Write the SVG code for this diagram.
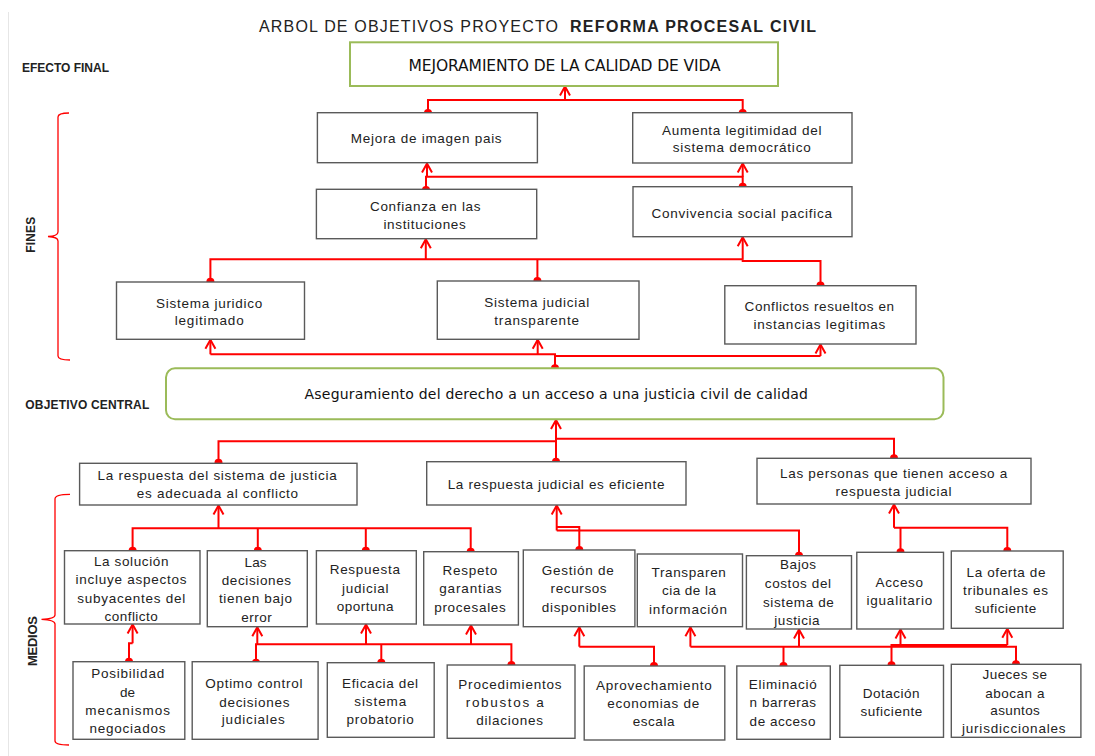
<svg xmlns="http://www.w3.org/2000/svg" width="1095" height="756" viewBox="0 0 1095 756">
<defs>
<style>
.bx{fill:#fff;stroke:#5a5a5a;stroke-width:1.4}
.gb{fill:#fff;stroke:#9bbb59;stroke-width:2}
.t{font-family:"Liberation Sans Narrow","Liberation Sans",Arial,sans-serif;font-size:13.5px;fill:#222}
.h{font-family:"Liberation Sans Narrow","Liberation Sans",Arial,sans-serif;font-size:12px;font-weight:bold;fill:#222}
.v{font-family:"DejaVu Sans",Verdana,sans-serif;fill:#111}
.c{fill:none;stroke:#ff0000;stroke-width:2}
.a{fill:none;stroke:#ff0000;stroke-width:2;marker-end:url(#ah)}
.d{fill:#ff0000}
.br{fill:none;stroke:#ff0000;stroke-width:1.3}
</style>
<marker id="ah" markerUnits="userSpaceOnUse" viewBox="-12 -7 14 14" refX="0" refY="0" markerWidth="14" markerHeight="14" orient="auto">
<path d="M-9,-5 L0,0 L-9,5" fill="none" stroke="#ff0000" stroke-width="2"/>
</marker>
</defs>
<rect width="1095" height="756" fill="#fff"/>
<line x1="8.5" y1="12" x2="8.5" y2="756" stroke="#e6e6e6" stroke-width="1"/>

<g id="title">
<text class="t" x="259" y="32.3" font-size="16" textLength="299" lengthAdjust="spacing" style="font-size:16px">ARBOL DE OBJETIVOS PROYECTO</text>
<text class="t" x="570" y="32.3" textLength="246" lengthAdjust="spacing" style="font-size:16px;font-weight:bold">REFORMA PROCESAL CIVIL</text>
</g>

<g id="labels">
<text class="h" x="22" y="72.3" textLength="87" lengthAdjust="spacing">EFECTO FINAL</text>
<text class="h" x="25.3" y="409.3" textLength="124" lengthAdjust="spacing">OBJETIVO CENTRAL</text>
<text class="h" transform="translate(35.1,252.7) rotate(-90)" x="0" y="0" textLength="36" lengthAdjust="spacing">FINES</text>
<text class="h" transform="translate(36.8,666) rotate(-90)" x="0" y="0" textLength="50" lengthAdjust="spacing" style="font-size:13px">MEDIOS</text>
<path class="br" d="M69,113 Q58,113 58,117 V232 Q58,236 48,236.5 Q58,237 58,241 V356 Q58,360 70,360"/>
<path class="br" d="M70,494.3 Q55,494.3 55,499 V615 Q55,619 41.5,619.3 Q55,620 55,624 V741 Q55,745 69,745"/>
</g>

<g id="connectors">
<path class="c" d="M428,113 V100 H742.7 V113"/>
<path class="a" d="M565,100 V86.5"/>
<path class="c" d="M426,190 V176.7 H742.7 V186.7"/>
<path class="a" d="M427,176.7 V163.5"/>
<path class="a" d="M742.7,176.7 V163.5"/>
<path class="c" d="M210.4,281.7 V259.3 H742.7"/>
<path class="c" d="M537.4,281 V259.3"/>
<path class="c" d="M742.7,259.3 V261 H820.5 V285.5"/>
<path class="a" d="M425.8,259.3 V239.2"/>
<path class="a" d="M742.7,259.3 V237.2"/>
<path class="c" d="M555,368.3 V354.3 H210.4"/>
<path class="c" d="M555,356 H820.5"/>
<path class="a" d="M210.4,354.3 V339.8"/>
<path class="a" d="M537.7,354.3 V339.8"/>
<path class="a" d="M820.5,356 V344.5"/>
<path class="a" d="M556,461.7 V420"/>
<path class="c" d="M218.5,462.7 V441.3 H556"/>
<path class="c" d="M556,438.7 H894 V458.3"/>
<path class="a" d="M218.5,528.3 V505.5"/>
<path class="c" d="M132.6,550.7 V528.3 H470.7 V551.7"/>
<path class="c" d="M257.8,528.3 V550.7"/>
<path class="c" d="M365.8,528.3 V550.7"/>
<path class="a" d="M556.7,530.5 V505.5"/>
<path class="c" d="M579.3,550 V527 H556.7"/>
<path class="c" d="M799,555.7 V530.5 H556.7"/>
<path class="a" d="M894,527.7 V504.5"/>
<path class="c" d="M900.5,552.3 V527.7"/>
<path class="c" d="M894,527.7 H1007.3 V551"/>
<path class="c" d="M129,661.7 V643.3 H132.6"/>
<path class="a" d="M132.6,643.3 V624.5"/>
<path class="c" d="M256,662.7 V644.3 H511.4 V665"/>
<path class="c" d="M381.3,662.7 V644.3"/>
<path class="a" d="M257.3,644.3 V627.2"/>
<path class="a" d="M366,644.3 V624.5"/>
<path class="a" d="M471,644.3 V625.5"/>
<path class="c" d="M654,666 V646.7 H579.3"/>
<path class="a" d="M579.3,646.7 V627.2"/>
<path class="c" d="M690.4,646.7 H1016 V664.3"/>
<path class="c" d="M891.5,665.3 V645 H1007.3"/>
<path class="c" d="M783.5,666 V646.7"/>
<path class="a" d="M690.4,646.7 V627.2"/>
<path class="a" d="M799,646.7 V629.5"/>
<path class="a" d="M900.5,645 V629.5"/>
<path class="a" d="M1007.3,645 V628.8"/>
<circle class="d" cx="428" cy="113" r="4"/>
<circle class="d" cx="742.7" cy="113" r="4"/>
<circle class="d" cx="426" cy="190" r="4"/>
<circle class="d" cx="742.7" cy="186.7" r="4"/>
<circle class="d" cx="210.4" cy="281.7" r="4"/>
<circle class="d" cx="537.4" cy="281" r="4"/>
<circle class="d" cx="820.5" cy="285.5" r="4"/>
<circle class="d" cx="555" cy="368.3" r="4"/>
<circle class="d" cx="218.5" cy="462.7" r="4"/>
<circle class="d" cx="556" cy="461.7" r="4"/>
<circle class="d" cx="894" cy="458.3" r="4"/>
<circle class="d" cx="132.6" cy="550.7" r="4"/>
<circle class="d" cx="257.8" cy="550.7" r="4"/>
<circle class="d" cx="365.8" cy="550.7" r="4"/>
<circle class="d" cx="470.7" cy="551.7" r="4"/>
<circle class="d" cx="579.3" cy="550" r="4"/>
<circle class="d" cx="799" cy="555.7" r="4"/>
<circle class="d" cx="900.5" cy="552.3" r="4"/>
<circle class="d" cx="1007.3" cy="551" r="4"/>
<circle class="d" cx="129" cy="661.7" r="4"/>
<circle class="d" cx="256" cy="662.7" r="4"/>
<circle class="d" cx="381.3" cy="662.7" r="4"/>
<circle class="d" cx="511.4" cy="665" r="4"/>
<circle class="d" cx="654" cy="666" r="4"/>
<circle class="d" cx="783.5" cy="666" r="4"/>
<circle class="d" cx="891.5" cy="665.3" r="4"/>
<circle class="d" cx="1016" cy="664.3" r="4"/>
</g>

<g id="n_mejoramiento">
<rect class="gb" x="350" y="42.3" width="428" height="43.7"/>
<text class="v" x="408.6" y="70.7" font-size="15.5" textLength="312" lengthAdjust="spacing">MEJORAMIENTO DE LA CALIDAD DE VIDA</text>
</g>
<g id="n_mejora">
<rect class="bx" x="317.4" y="112.7" width="220" height="50"/>
<text class="t" x="350.8" y="143.3" textLength="150.8" lengthAdjust="spacing">Mejora de imagen pais</text>
</g>
<g id="n_aumenta">
<rect class="bx" x="632.7" y="112.7" width="219.3" height="50.3"/>
<text class="t" x="662.1" y="135" textLength="159.3" lengthAdjust="spacing">Aumenta legitimidad del</text>
<text class="t" x="672.7" y="152.3" textLength="138" lengthAdjust="spacing">sistema democrático</text>
</g>
<g id="n_confianza">
<rect class="bx" x="316.4" y="189.3" width="220.3" height="49.4"/>
<text class="t" x="370" y="210.7" textLength="110.5" lengthAdjust="spacing">Confianza en las</text>
<text class="t" x="383.4" y="228.7" textLength="82.4" lengthAdjust="spacing">instituciones</text>
</g>
<g id="n_convivencia">
<rect class="bx" x="633" y="186.7" width="219" height="50"/>
<text class="t" x="651.5" y="217.7" textLength="180.5" lengthAdjust="spacing">Convivencia social pacifica</text>
</g>
<g id="n_sistema_juridico">
<rect class="bx" x="116.5" y="282" width="188" height="57.3"/>
<text class="t" x="156" y="307.7" textLength="106.3" lengthAdjust="spacing">Sistema juridico</text>
<text class="t" x="174.7" y="325" textLength="69" lengthAdjust="spacing">legitimado</text>
</g>
<g id="n_sistema_judicial">
<rect class="bx" x="437.3" y="281" width="201.7" height="58.3"/>
<text class="t" x="484.3" y="306.7" textLength="105" lengthAdjust="spacing">Sistema judicial</text>
<text class="t" x="494.3" y="325" textLength="84.7" lengthAdjust="spacing">transparente</text>
</g>
<g id="n_conflictos">
<rect class="bx" x="724.8" y="285.7" width="191.2" height="58.3"/>
<text class="t" x="744.6" y="311" textLength="149.4" lengthAdjust="spacing">Conflictos resueltos en</text>
<text class="t" x="753.5" y="329.3" textLength="131.7" lengthAdjust="spacing">instancias legitimas</text>
</g>
<g id="n_central">
<rect class="gb" x="166" y="368.3" width="777.5" height="51" rx="9"/>
<text class="v" x="304.5" y="399.3" font-size="14" textLength="503.5" lengthAdjust="spacing">Aseguramiento del derecho a un acceso a una justicia civil de calidad</text>
</g>
<g id="n_resp_sistema">
<rect class="bx" x="79.6" y="463.3" width="277.4" height="41.7"/>
<text class="t" x="97.5" y="480" textLength="239.2" lengthAdjust="spacing">La respuesta del sistema de justicia</text>
<text class="t" x="136.8" y="498" textLength="161.3" lengthAdjust="spacing">es adecuada al conflicto</text>
</g>
<g id="n_resp_judicial">
<rect class="bx" x="426.7" y="461.7" width="259.3" height="43.3"/>
<text class="t" x="447.7" y="489.3" textLength="216.7" lengthAdjust="spacing">La respuesta judicial es eficiente</text>
</g>
<g id="n_personas">
<rect class="bx" x="757" y="458.3" width="274" height="45.7"/>
<text class="t" x="780" y="477.7" textLength="227.3" lengthAdjust="spacing">Las personas que tienen acceso a</text>
<text class="t" x="835.6" y="496" textLength="115.8" lengthAdjust="spacing">respuesta judicial</text>
</g>
<g id="n_solucion">
<rect class="bx" x="64.5" y="550.7" width="135.5" height="73.3"/>
<text class="t" x="94" y="566" textLength="74.4" lengthAdjust="spacing">La solución</text>
<text class="t" x="75.4" y="584" textLength="111.2" lengthAdjust="spacing">incluye aspectos</text>
<text class="t" x="77.2" y="602.7" textLength="108" lengthAdjust="spacing">subyacentes del</text>
<text class="t" x="104.5" y="620.7" textLength="53.3" lengthAdjust="spacing">conflicto</text>
</g>
<g id="n_decisiones">
<rect class="bx" x="207.3" y="550.7" width="100" height="76"/>
<text class="t" x="244.5" y="566.7" textLength="22.1" lengthAdjust="spacing">Las</text>
<text class="t" x="221.7" y="585.3" textLength="69.4" lengthAdjust="spacing">decisiones</text>
<text class="t" x="218.9" y="603.3" textLength="73" lengthAdjust="spacing">tienen bajo</text>
<text class="t" x="241.3" y="621.7" textLength="30.5" lengthAdjust="spacing">error</text>
</g>
<g id="n_oportuna">
<rect class="bx" x="316.4" y="550.7" width="99.9" height="73.3"/>
<text class="t" x="329.7" y="574.3" textLength="70.2" lengthAdjust="spacing">Respuesta</text>
<text class="t" x="342" y="593.3" textLength="46.6" lengthAdjust="spacing">judicial</text>
<text class="t" x="336.7" y="611.3" textLength="56.8" lengthAdjust="spacing">oportuna</text>
</g>
<g id="n_respeto">
<rect class="bx" x="423.7" y="551.7" width="94.7" height="73.3"/>
<text class="t" x="442.6" y="575" textLength="54.7" lengthAdjust="spacing">Respeto</text>
<text class="t" x="439.2" y="593.3" textLength="62.4" lengthAdjust="spacing">garantias</text>
<text class="t" x="434.2" y="612" textLength="71.6" lengthAdjust="spacing">procesales</text>
</g>
<g id="n_gestion">
<rect class="bx" x="523.3" y="550" width="111.6" height="76.7"/>
<text class="t" x="541.8" y="575" textLength="71.9" lengthAdjust="spacing">Gestión de</text>
<text class="t" x="550.6" y="593.3" textLength="56" lengthAdjust="spacing">recursos</text>
<text class="t" x="541.8" y="612" textLength="74.3" lengthAdjust="spacing">disponibles</text>
</g>
<g id="n_transparencia">
<rect class="bx" x="637.3" y="554" width="105.2" height="72.7"/>
<text class="t" x="651.5" y="577.3" textLength="74.3" lengthAdjust="spacing">Transparen</text>
<text class="t" x="662.1" y="595.3" textLength="53.8" lengthAdjust="spacing">cia de la</text>
<text class="t" x="649" y="614" textLength="77.9" lengthAdjust="spacing">información</text>
</g>
<g id="n_bajos">
<rect class="bx" x="746.4" y="555.7" width="105.1" height="73.3"/>
<text class="t" x="780" y="569.3" textLength="36.1" lengthAdjust="spacing">Bajos</text>
<text class="t" x="764.8" y="588.3" textLength="66.2" lengthAdjust="spacing">costos del</text>
<text class="t" x="763" y="606.7" textLength="70.8" lengthAdjust="spacing">sistema de</text>
<text class="t" x="774.3" y="625" textLength="45.3" lengthAdjust="spacing">justicia</text>
</g>
<g id="n_acceso">
<rect class="bx" x="856.8" y="552.3" width="86.7" height="76.7"/>
<text class="t" x="875.6" y="586.7" textLength="47.4" lengthAdjust="spacing">Acceso</text>
<text class="t" x="866.4" y="605.3" textLength="65.8" lengthAdjust="spacing">igualitario</text>
</g>
<g id="n_oferta">
<rect class="bx" x="951.3" y="551" width="111.9" height="77.3"/>
<text class="t" x="966.5" y="576.7" textLength="79" lengthAdjust="spacing">La oferta de</text>
<text class="t" x="963" y="595" textLength="85" lengthAdjust="spacing">tribunales es</text>
<text class="t" x="974.7" y="613.3" textLength="61.6" lengthAdjust="spacing">suficiente</text>
</g>
<g id="n_posibilidad">
<rect class="bx" x="73" y="661.7" width="111.8" height="77.6"/>
<text class="t" x="91.2" y="678.3" textLength="73" lengthAdjust="spacing">Posibilidad</text>
<text class="t" x="120" y="696.7" textLength="15" lengthAdjust="spacing">de</text>
<text class="t" x="85.2" y="715" textLength="84.9" lengthAdjust="spacing">mecanismos</text>
<text class="t" x="89.4" y="733.3" textLength="76.1" lengthAdjust="spacing">negociados</text>
</g>
<g id="n_optimo">
<rect class="bx" x="192.2" y="661.7" width="125.9" height="77.6"/>
<text class="t" x="205.2" y="688.3" textLength="97.2" lengthAdjust="spacing">Optimo control</text>
<text class="t" x="219.2" y="706.7" textLength="70.2" lengthAdjust="spacing">decisiones</text>
<text class="t" x="221.7" y="724.3" textLength="63.1" lengthAdjust="spacing">judiciales</text>
</g>
<g id="n_eficacia">
<rect class="bx" x="327.3" y="662.7" width="106.9" height="74.6"/>
<text class="t" x="342" y="688.3" textLength="76.1" lengthAdjust="spacing">Eficacia del</text>
<text class="t" x="354.3" y="706" textLength="51.9" lengthAdjust="spacing">sistema</text>
<text class="t" x="346.5" y="724.3" textLength="67.3" lengthAdjust="spacing">probatorio</text>
</g>
<g id="n_procedimientos">
<rect class="bx" x="447.2" y="665" width="127.8" height="73.3"/>
<text class="t" x="458.3" y="689.3" textLength="103.3" lengthAdjust="spacing">Procedimientos</text>
<text class="t" x="465.8" y="707.3" textLength="77.9" lengthAdjust="spacing">robustos a</text>
<text class="t" x="476.3" y="725" textLength="66.6" lengthAdjust="spacing">dilaciones</text>
</g>
<g id="n_aprovechamiento">
<rect class="bx" x="584.2" y="666" width="140.6" height="74"/>
<text class="t" x="595.9" y="690" textLength="115.8" lengthAdjust="spacing">Aprovechamiento</text>
<text class="t" x="607.3" y="708.3" textLength="92" lengthAdjust="spacing">economias de</text>
<text class="t" x="632.7" y="726" textLength="41.8" lengthAdjust="spacing">escala</text>
</g>
<g id="n_eliminacion">
<rect class="bx" x="736.8" y="666" width="93.5" height="73.3"/>
<text class="t" x="748.8" y="689.3" textLength="68" lengthAdjust="spacing">Eliminació</text>
<text class="t" x="749.6" y="707.3" textLength="66.5" lengthAdjust="spacing">n barreras</text>
<text class="t" x="749.6" y="726" textLength="65.8" lengthAdjust="spacing">de acceso</text>
</g>
<g id="n_dotacion">
<rect class="bx" x="839.8" y="665.3" width="103.7" height="72"/>
<text class="t" x="862.8" y="698.3" textLength="56.6" lengthAdjust="spacing">Dotación</text>
<text class="t" x="860.4" y="716" textLength="61.9" lengthAdjust="spacing">suficiente</text>
</g>
<g id="n_jueces">
<rect class="bx" x="951.3" y="664.3" width="129.6" height="73"/>
<text class="t" x="982.5" y="679.3" textLength="64.4" lengthAdjust="spacing">Jueces se</text>
<text class="t" x="985.3" y="697.7" textLength="59.1" lengthAdjust="spacing">abocan a</text>
<text class="t" x="990.3" y="715.3" textLength="49.5" lengthAdjust="spacing">asuntos</text>
<text class="t" x="961.9" y="733.3" textLength="103.7" lengthAdjust="spacing">jurisdiccionales</text>
</g>
</svg>
